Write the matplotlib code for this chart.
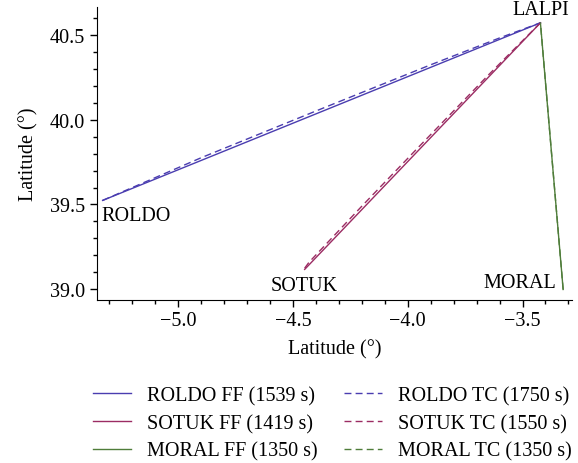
import matplotlib
matplotlib.use("Agg")
import matplotlib.pyplot as plt

plt.rcParams["font.family"] = ["Liberation Serif", "DejaVu Serif"]

# waypoint coordinates (lon, lat)
lalpi = (-3.422, 40.569)
roldo = (-5.329, 39.524)
sotuk = (-4.449, 39.118)
moral = (-3.323, 39.000)

# free-flight (FF) tracks: straight legs to LALPI
roldo_ff_x = [roldo[0], lalpi[0]]
roldo_ff_y = [roldo[1], lalpi[1]]
sotuk_ff_x = [sotuk[0], lalpi[0]]
sotuk_ff_y = [sotuk[1], lalpi[1]]
moral_ff_x = [moral[0], lalpi[0]]
moral_ff_y = [moral[1], lalpi[1]]

# trajectory-controlled (TC) tracks
roldo_tc_x = [-5.329, -4.90, -4.40, -3.90, -3.60, -3.422]
roldo_tc_y = [39.524, 39.775, 40.050, 40.322, 40.480, 40.569]
sotuk_tc_x = [-4.449, -4.43, -4.20, -3.944, -3.65, -3.422]
sotuk_tc_y = [39.125, 39.160, 39.490, 39.850, 40.260, 40.569]
moral_tc_x = [-3.323, -3.422]
moral_tc_y = [39.000, 40.569]

labels_ff = ["ROLDO FF (1539 s)", "SOTUK FF (1419 s)", "MORAL FF (1350 s)"]
labels_tc = ["ROLDO TC (1750 s)", "SOTUK TC (1550 s)", "MORAL TC (1350 s)"]

c_roldo = "#4a3db0"
c_sotuk = "#9b2c63"
c_moral = "#4f7d3a"

fig = plt.figure(figsize=(5.78, 4.64), dpi=100)
ax = fig.add_axes([0.168, 0.352, 0.821, 0.630])

ax.plot(roldo_ff_x, roldo_ff_y, color=c_roldo, lw=1.0, label=labels_ff[0])
ax.plot(sotuk_ff_x, sotuk_ff_y, color=c_sotuk, lw=1.0, label=labels_ff[1])
ax.plot(moral_ff_x, moral_ff_y, color=c_moral, lw=1.0, label=labels_ff[2])
ax.plot(roldo_tc_x, roldo_tc_y, color=c_roldo, lw=1.0, ls=(0, (5, 3)), label=labels_tc[0])
ax.plot(sotuk_tc_x, sotuk_tc_y, color=c_sotuk, lw=1.0, ls=(0, (5, 3)), label=labels_tc[1])
ax.plot(moral_tc_x, moral_tc_y, color=c_moral, lw=1.0, ls=(0, (5, 3)), label=labels_tc[2])

fs = 14.5
ax.annotate("LALPI", lalpi, xytext=(0, 3), textcoords="offset points",
            ha="center", va="bottom", fontsize=fs)
ax.annotate("ROLDO", roldo, xytext=(-1, -4), textcoords="offset points",
            ha="left", va="top", fontsize=fs)
ax.annotate("SOTUK", sotuk, xytext=(0, -5), textcoords="offset points",
            ha="center", va="top", fontsize=fs)
ax.annotate("MORAL", moral, xytext=(-5, -2), textcoords="offset points",
            ha="right", va="bottom", fontsize=fs)

ax.set_xlim(-5.353, -3.286)
ax.set_ylim(38.94, 40.66)
ax.set_xticks([-5.0, -4.5, -4.0, -3.5])
ax.set_yticks([39.0, 39.5, 40.0, 40.5])
ax.set_xticks([x / 10 for x in range(-53, -32)], minor=True)
ax.set_yticks([y / 10 for y in range(390, 407)], minor=True)
ax.set_xticklabels(["\u22125.0", "\u22124.5", "\u22124.0", "\u22123.5"])
ax.tick_params(which="major", length=5, width=1.0, labelsize=fs, direction="out")
ax.tick_params(which="minor", length=3, width=1.0, direction="out")
for s in ("top", "right"):
    ax.spines[s].set_visible(False)
ax.set_xlabel("Latitude (\u00b0)", fontsize=fs, labelpad=6)
ax.set_ylabel("Latitude (\u00b0)", fontsize=fs, labelpad=8)

fig.legend(loc="upper center", bbox_to_anchor=(0.575, 0.183), ncol=2, frameon=False,
           fontsize=fs, handlelength=1.9, handletextpad=0.8, columnspacing=1.3,
           labelspacing=0.42, borderaxespad=0)

fig.savefig("out.png", dpi=100)
